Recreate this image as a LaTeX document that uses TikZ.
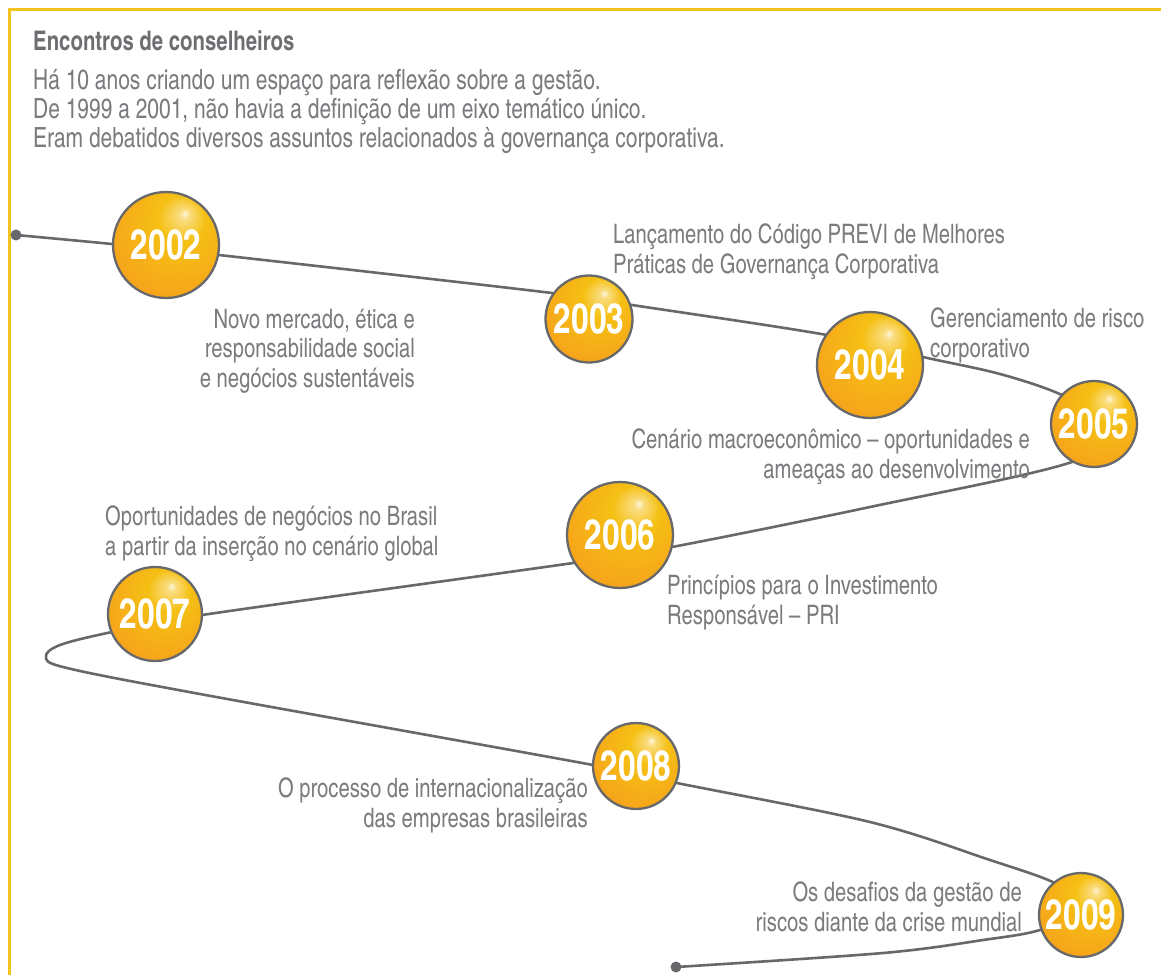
\documentclass[tikz,border=0pt]{standalone}
\usepackage{fontspec}
\setmainfont{texgyreheroscn}[Extension=.otf, UprightFont=*-regular, BoldFont=*-bold, FakeStretch=0.92]
\definecolor{frameyellow}{HTML}{F1C31B}
\definecolor{txtgray}{HTML}{7A7B7E}
\definecolor{titlegray}{HTML}{6D6E71}
\definecolor{linegray}{HTML}{67686B}
\definecolor{ballyellow}{HTML}{F5C014}
\definecolor{ballorange}{HTML}{F7931E}
\pgfdeclareradialshading{yearball}{\pgfpoint{9bp}{15bp}}{color(0bp)=(white!85!ballyellow); color(2.5bp)=(white!45!ballyellow); color(11bp)=(ballyellow); color(30bp)=(ballorange!55!ballyellow); color(42bp)=(ballorange); color(60bp)=(ballorange)}
\tikzset{
  yearcirc/.style={circle, draw=linegray, line width=2.3pt, shading=yearball, minimum size=#1, inner sep=0pt, text=white, font=\fontsize{42}{42}\selectfont\bfseries},
  desc/.style={inner sep=0pt, text=txtgray, font=\fontsize{26.8}{29.5}\selectfont},
  intro/.style={inner sep=0pt, text=txtgray, font=\fontsize{27.8}{29}\selectfont},
  curve/.style={draw=linegray, line width=2.6pt}
}
\begin{document}
\begin{tikzpicture}[x=1pt,y=-1pt]
\useasboundingbox (0,0) rectangle (1161,975);
% frame
\draw[frameyellow, line width=3pt] (1161,9) -- (9,9) -- (9,975);
% header (base anchor of a multi-line node = baseline of its last line)
\node[intro, anchor=base west, text=titlegray, font=\fontsize{27}{29}\selectfont\bfseries] (title) at (33,50) {Encontros de conselheiros};
\node[intro, anchor=base west, align=left] (introtext) at (33,147) {Há 10 anos criando um espaço para reflexão sobre a gestão.\\De 1999 a 2001, não havia a definição de um eixo temático único.\\Eram debatidos diversos assuntos relacionados à governança corporativa.};
% timeline curve
\coordinate (start) at (16,235);
\coordinate (finish) at (676,967);
\draw[curve] plot[smooth, tension=0.55] coordinates {(start) (112,244) (219,255) (552,293) (632,305) (827,335) (923,357) (1000,374) (1062,395) (1112,425) (1072,462) (870,507) (672,547) (573,563) (202,615) (112,632) (60,645) (46,657) (67,668) (200,694) (593,765) (677,783) (870,822) (990,860) (1055,883) (1092,908) (1040,930) (983,940) (883,953) (finish)};
\fill[linegray] (start) circle (5.5);
\fill[linegray] (finish) circle (5.5);
% year balls
\node[yearcirc=106] (y2002) at (166,245) {2002};
\node[yearcirc=87] (y2003) at (589,319) {2003};
\node[yearcirc=106] (y2004) at (870,365) {2004};
\node[yearcirc=86] (y2005) at (1094,424) {2005};
\node[yearcirc=106] (y2006) at (620,535) {2006};
\node[yearcirc=94] (y2007) at (155,614) {2007};
\node[yearcirc=86] (y2008) at (636,766) {2008};
\node[yearcirc=84] (y2009) at (1081,915) {2009};
% descriptions
\node[desc, anchor=base west, align=left] (d2003) at (613,273) {Lançamento do Código PREVI de Melhores\\Práticas de Governança Corporativa};
\node[desc, anchor=base east, align=right] (d2002) at (415,387) {Novo mercado, ética e\\responsabilidade social\\e negócios sustentáveis};
\node[desc, anchor=base west, align=left] (d2004) at (930,357) {Gerenciamento de risco\\corporativo};
\node[desc, anchor=base east, align=right] (d2005) at (1030,478) {Cenário macroeconômico – oportunidades e\\ameaças ao desenvolvimento};
\node[desc, anchor=base west, align=left] (d2007) at (105,555) {Oportunidades de negócios no Brasil\\a partir da inserção no cenário global};
\node[desc, anchor=base west, align=left] (d2006) at (667,624) {Princípios para o Investimento\\Responsável – PRI};
\node[desc, anchor=base east, align=right] (d2008) at (588,827) {O processo de internacionalização\\das empresas brasileiras};
\node[desc, anchor=base east, align=right] (d2009) at (1022,931) {Os desafios da gestão de\\riscos diante da crise mundial};
\end{tikzpicture}
\end{document}
